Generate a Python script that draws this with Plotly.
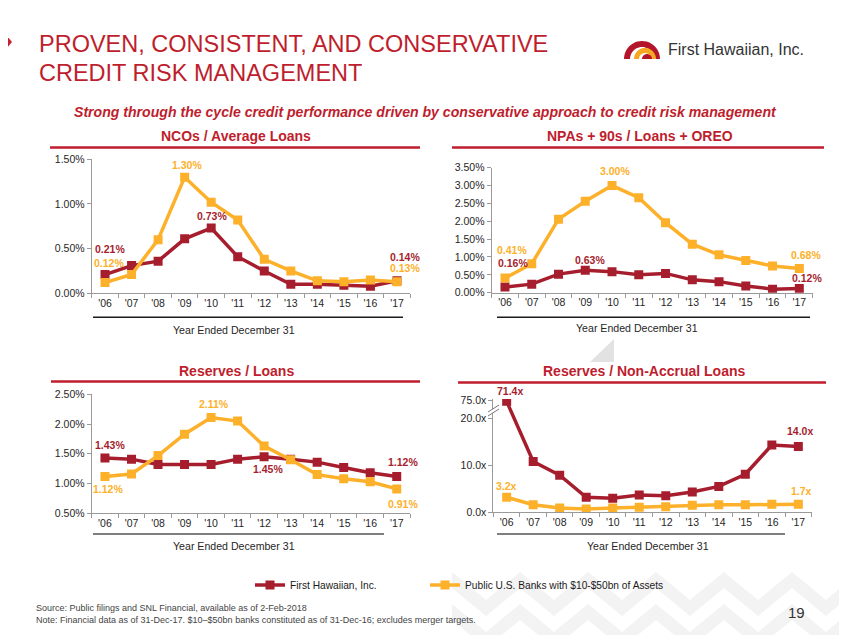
import math
import plotly.graph_objects as go

W, H = 847, 635
OFF = 8  # the page body margin places the figure 8px right/down

# ---------------- data ----------------
years = ["'06", "'07", "'08", "'09", "'10", "'11", "'12", "'13", "'14", "'15", "'16", "'17"]

nco_fhb = [0.21, 0.31, 0.36, 0.61, 0.73, 0.41, 0.25, 0.10, 0.10, 0.09, 0.08, 0.14]
nco_peer = [0.12, 0.21, 0.60, 1.30, 1.02, 0.82, 0.38, 0.25, 0.14, 0.13, 0.15, 0.13]

npa_fhb = [0.16, 0.24, 0.52, 0.63, 0.59, 0.50, 0.54, 0.36, 0.31, 0.19, 0.10, 0.12]
npa_peer = [0.41, 0.81, 2.06, 2.56, 3.00, 2.66, 1.96, 1.36, 1.06, 0.90, 0.75, 0.68]

res_fhb = [1.43, 1.41, 1.32, 1.32, 1.32, 1.41, 1.45, 1.41, 1.36, 1.27, 1.18, 1.12]
res_peer = [1.12, 1.16, 1.47, 1.83, 2.11, 2.05, 1.63, 1.40, 1.15, 1.08, 1.03, 0.91]

nal_fhb = [71.4, 10.8, 7.9, 3.2, 3.0, 3.7, 3.5, 4.3, 5.5, 8.1, 14.3, 14.0]
nal_peer = [3.2, 1.6, 0.9, 0.7, 0.9, 1.1, 1.2, 1.5, 1.6, 1.6, 1.7, 1.7]

nal_ticks = [0, 10, 20, 75]

series_names = ["First Hawaiian, Inc.", "Public U.S. Banks with $10-$50bn of Assets"]

RED = "#A61E2E"
ORANGE = "#FDB02A"
TITLE_RED = "#BE1E2D"
AXIS = "#9a9a9a"
TXT = "#262626"
FONT = "Liberation Sans, Arial, sans-serif"


def brk(v):
    # broken axis above 20.0x
    return v if v <= 20 else 20 + (v - 20) * 0.07


def px(x):
    return (x - OFF) / W


def py(y):
    return 1 - (y - OFF) / H


fig = go.Figure()

charts = [
    dict(fhb=nco_fhb, peer=nco_peer, xd=(91.75, 410.25), yd=(159.3, 293.3), rng=[0, 1.5], kind="pct"),
    dict(fhb=npa_fhb, peer=npa_peer, xd=(491.6, 812.7), yd=(167.7, 292.7), rng=[0, 3.5], kind="pct"),
    dict(fhb=res_fhb, peer=res_peer, xd=(91.7, 410.0), yd=(394.3, 513.3), rng=[0.5, 2.5], kind="pct"),
    dict(fhb=nal_fhb, peer=nal_peer, xd=(493.4, 811.6), yd=(399.0, 512.3), rng=[0, brk(75) + 0.25], kind="x"),
]

layout_axes = {}
for i, c in enumerate(charts):
    n = "" if i == 0 else str(i + 1)
    xa, ya = "x" + n, "y" + n
    if c["kind"] == "x":
        yf = [brk(v) for v in c["fhb"]]
        yp = [brk(v) for v in c["peer"]]
        cd_f = [f"{v:.1f}x" for v in c["fhb"]]
        cd_p = [f"{v:.1f}x" for v in c["peer"]]
    else:
        yf, yp = c["fhb"], c["peer"]
        cd_f = [f"{v:.2f}%" for v in c["fhb"]]
        cd_p = [f"{v:.2f}%" for v in c["peer"]]
    for k, (vals, cd, col, name) in enumerate([(yf, cd_f, RED, series_names[0]),
                                                (yp, cd_p, ORANGE, series_names[1])]):
        fig.add_trace(go.Scatter(
            x=years, y=vals, customdata=cd, mode="lines+markers", name=name,
            line=dict(color=col, width=3.5),
            marker=dict(symbol="square", size=9, color=col),
            xaxis=xa, yaxis=ya, showlegend=(i == 0), legendgroup=name,
            legend="legend" if k == 0 else "legend2",
            hovertemplate="%{x}: %{customdata}<extra>" + name + "</extra>",
        ))
    layout_axes["xaxis" + n] = dict(
        domain=[px(c["xd"][0]), px(c["xd"][1])], anchor=ya, type="category",
        range=[-0.5, 11.5], showline=True, linecolor=AXIS, linewidth=1,
        ticks="outside", tickson="boundaries", ticklen=4, tickcolor=AXIS,
        showgrid=False, zeroline=False, fixedrange=True, automargin=False,
        tickfont=dict(family=FONT, size=10.5, color=TXT),
    )
    yax = dict(
        domain=[py(c["yd"][1]), py(c["yd"][0])], anchor=xa, range=c["rng"],
        showline=True, linecolor=AXIS, linewidth=1, ticks="outside", ticklen=4,
        tickcolor=AXIS, showgrid=False, zeroline=False, fixedrange=True, automargin=False,
        tickfont=dict(family=FONT, size=10.5, color=TXT),
    )
    if c["kind"] == "pct":
        yax.update(dtick=0.5, tick0=0, tickformat=".2f", ticksuffix="%")
    else:
        yax.update(tickmode="array", tickvals=[brk(v) for v in nal_ticks],
                   ticktext=[f"{v:.1f}x" for v in nal_ticks])
    layout_axes["yaxis" + n] = yax

fig.update_layout(**layout_axes)

annotations = []
shapes = []

# ---------------- faint background watermark ----------------
WM = "#f3f3f3"
for k in range(6):
    x0 = 452 + k * 68
    pts = [(x0, 572), (x0 + 34, 600), (x0 + 68, 572), (x0 + 68, 588), (x0 + 34, 616), (x0, 588)]
    shapes.append(dict(type="path", xref="paper", yref="paper", layer="below",
                       path="M " + " L ".join(f"{px(a):.5f} {py(b):.5f}" for a, b in pts) + " Z",
                       fillcolor=WM, line=dict(width=0)))
    pts2 = [(x0, 604), (x0 + 34, 632), (x0 + 68, 604), (x0 + 68, 620), (x0 + 34, 648), (x0, 620)]
    shapes.append(dict(type="path", xref="paper", yref="paper", layer="below",
                       path="M " + " L ".join(f"{px(a):.5f} {py(b):.5f}" for a, b in pts2) + " Z",
                       fillcolor=WM, line=dict(width=0)))
shapes.append(dict(type="path", xref="paper", yref="paper", layer="below",
                   path=f"M {px(590)} {py(362)} L {px(614)} {py(339)} L {px(614)} {py(362)} Z",
                   fillcolor="#e2e2e2", line=dict(width=0)))

# ---------------- data labels ----------------
# (chart index, series 0=fhb 1=peer, point index, xshift, yshift)
label_specs = [
    (0, 0, 0, 5, 26), (0, 1, 0, 4, 20), (0, 1, 3, 2, 12), (0, 0, 4, 1, 12),
    (0, 0, 11, 8, 24), (0, 1, 11, 8, 14),
    (1, 1, 0, 7, 28), (1, 0, 0, 8, 24), (1, 1, 4, 3, 15), (1, 0, 3, 5, 10),
    (1, 1, 11, 7, 13), (1, 0, 11, 8, 10),
    (2, 1, 4, 3, 14), (2, 0, 0, 5, 13), (2, 1, 0, 3, -13), (2, 0, 6, 4, -12),
    (2, 0, 11, 6, 14), (2, 1, 11, 6, -15),
    (3, 0, 0, 3, 10), (3, 1, 0, 0, 11), (3, 0, 11, 2, 15), (3, 1, 11, 3, 13),
]
for ci, s, idx, xs, ys in label_specs:
    c = charts[ci]
    n = "" if ci == 0 else str(ci + 1)
    v = (c["fhb"] if s == 0 else c["peer"])[idx]
    if c["kind"] == "x":
        yv, txt = brk(v), f"{v:.1f}x"
    else:
        yv, txt = v, f"{v:.2f}%"
    annotations.append(dict(
        x=years[idx], y=yv, xref="x" + n, yref="y" + n, text="<b>" + txt + "</b>",
        showarrow=False, xshift=xs, yshift=ys,
        font=dict(family=FONT, size=10.5, color=RED if s == 0 else ORANGE),
    ))

# ---------------- section titles, rules ----------------
sections = [
    ("NCOs / Average Loans", 236, 136, 50, 420, 147.5),
    ("NPAs + 90s / Loans + OREO", 640, 136, 452, 824, 147.5),
    ("Reserves / Loans", 236, 371, 51, 420, 381.5),
    ("Reserves / Non-Accrual Loans", 644, 371, 458, 826, 382.5),
]
for t, cx, cy, x0, x1, ly in sections:
    annotations.append(dict(x=px(cx), y=py(cy), xref="paper", yref="paper", text="<b>" + t + "</b>",
                            showarrow=False, xanchor="center", yanchor="middle",
                            font=dict(family=FONT, size=14, color=TITLE_RED)))
    shapes.append(dict(type="line", xref="paper", yref="paper", x0=px(x0), x1=px(x1), y0=py(ly), y1=py(ly),
                       line=dict(color=TITLE_RED, width=2.5)))

caps = [
    (234, 330, 93, 403, 317.3, "#1a1a1a"),
    (637, 328, 497, 810, 317.3, "#1a1a1a"),
    (234, 546, 93, 384, 534, "#555555"),
    (648, 546, 497, 785, 534, "#555555"),
]
for cx, cy, x0, x1, ly, lc in caps:
    shapes.append(dict(type="line", xref="paper", yref="paper", x0=px(x0), x1=px(x1), y0=py(ly), y1=py(ly),
                       line=dict(color=lc, width=1.5)))
    annotations.append(dict(x=px(cx), y=py(cy), xref="paper", yref="paper", text="Year Ended December 31",
                            showarrow=False, xanchor="center", yanchor="middle",
                            font=dict(family=FONT, size=10.6, color=TXT)))

# axis break marks on the Reserves / Non-Accrual chart
shapes.append(dict(type="path", xref="paper", yref="paper",
                   path=f"M {px(488)} {py(412)} L {px(499)} {py(405)} L {px(499)} {py(409)} L {px(488)} {py(416)} Z",
                   fillcolor="white", line=dict(width=0)))
for dy in (0, 4):
    shapes.append(dict(type="line", xref="paper", yref="paper",
                       x0=px(488), y0=py(412 + dy), x1=px(499), y1=py(405 + dy),
                       line=dict(color="#777777", width=1)))

# ---------------- page header ----------------
for txt, yy in [("PROVEN, CONSISTENT, AND CONSERVATIVE", 44), ("CREDIT RISK MANAGEMENT", 73)]:
    annotations.append(dict(x=px(37), y=py(yy), xref="paper", yref="paper", text=txt,
                            showarrow=False, xanchor="left", yanchor="middle",
                            font=dict(family=FONT, size=23.5, color=TITLE_RED)))
annotations.append(dict(x=px(425), y=py(112), xref="paper", yref="paper",
                        text="<b><i>Strong through the cycle credit performance driven by conservative approach to credit risk management</i></b>",
                        showarrow=False, xanchor="center", yanchor="middle",
                        font=dict(family=FONT, size=14.1, color=TITLE_RED)))
shapes.append(dict(type="path", xref="paper", yref="paper",
                   path=f"M {px(0)} {py(28)} L {px(12)} {py(42)} L {px(0)} {py(56)} Z",
                   fillcolor="#C8202F", line=dict(width=0)))


def arch(cx, cy, r_out, r_in, a0=0, a1=180, n=24):
    pts = []
    for k in range(n + 1):
        a = math.radians(a0 + (a1 - a0) * k / n)
        pts.append((cx + r_out * math.cos(a), cy - r_out * math.sin(a)))
    for k in range(n, -1, -1):
        a = math.radians(a0 + (a1 - a0) * k / n)
        pts.append((cx + r_in * math.cos(a), cy - r_in * math.sin(a)))
    return "M " + " L ".join(f"{px(x):.5f} {py(y):.5f}" for x, y in pts) + " Z"


shapes.append(dict(type="path", xref="paper", yref="paper", path=arch(642, 59, 18, 12),
                   fillcolor="#B5152B", line=dict(width=0)))
shapes.append(dict(type="path", xref="paper", yref="paper", path=arch(645, 59, 11, 6),
                   fillcolor="#F7A823", line=dict(width=0)))
shapes.append(dict(type="path", xref="paper", yref="paper", path=arch(647, 59, 5, 0.1),
                   fillcolor="#B5152B", line=dict(width=0)))
annotations.append(dict(x=px(666), y=py(50), xref="paper", yref="paper", text="First Hawaiian, Inc.",
                        showarrow=False, xanchor="left", yanchor="middle",
                        font=dict(family=FONT, size=16, color="#333333")))

# ---------------- footer ----------------
annotations.append(dict(x=px(34), y=py(608), xref="paper", yref="paper",
                        text="Source: Public filings and SNL Financial, available as of 2-Feb-2018",
                        showarrow=False, xanchor="left", yanchor="middle",
                        font=dict(family=FONT, size=9, color="#444444")))
annotations.append(dict(x=px(34), y=py(620), xref="paper", yref="paper",
                        text="Note: Financial data as of 31-Dec-17. $10–$50bn banks constituted as of 31-Dec-16; excludes merger targets.",
                        showarrow=False, xanchor="left", yanchor="middle",
                        font=dict(family=FONT, size=9, color="#444444")))
annotations.append(dict(x=px(796), y=py(612), xref="paper", yref="paper", text="19",
                        showarrow=False, xanchor="center", yanchor="middle",
                        font=dict(family=FONT, size=15, color="#333333")))

leg_common = dict(orientation="h", xanchor="left", yanchor="middle",
                  font=dict(family=FONT, size=10.2, color="#1a1a1a"),
                  itemwidth=30, bgcolor="rgba(0,0,0,0)")
fig.update_layout(
    width=W, height=H, margin=dict(l=0, r=0, t=0, b=0, autoexpand=False),
    paper_bgcolor="white", plot_bgcolor="rgba(0,0,0,0)",
    annotations=annotations, shapes=shapes,
    showlegend=True,
    legend=dict(x=px(250), y=py(585), **leg_common),
    legend2=dict(x=px(425), y=py(585), **leg_common),
    hovermode="closest",
)

fig.write_html("out.html")
